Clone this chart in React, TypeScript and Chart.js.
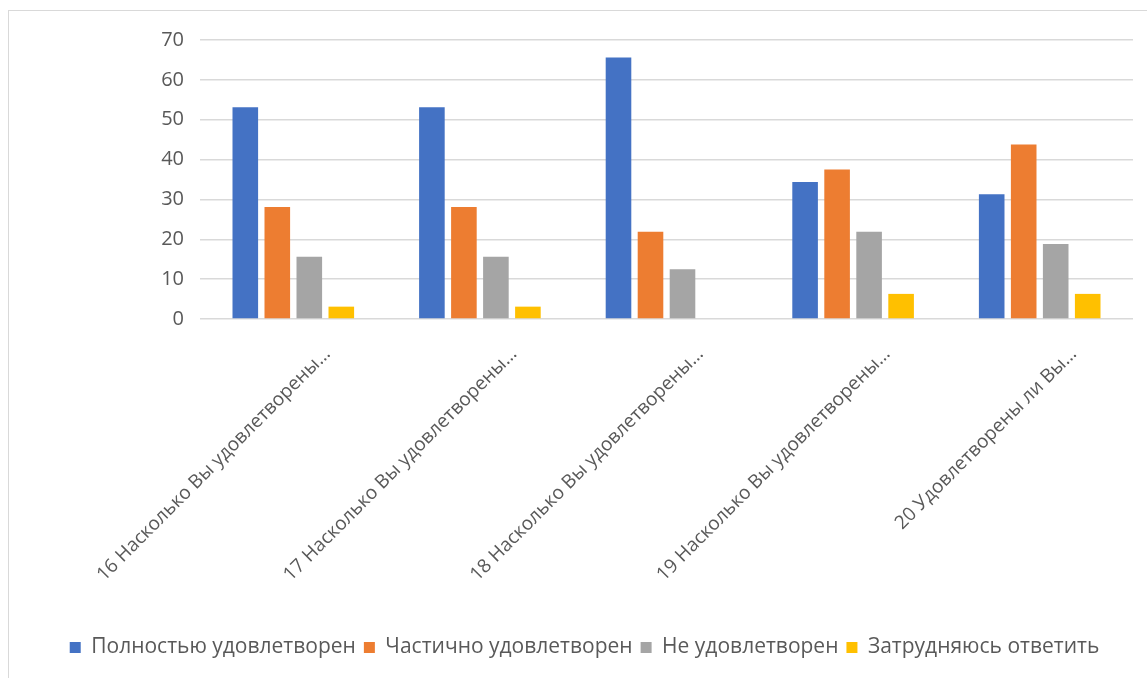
import React, { useEffect, useRef } from "react";
import { Chart, registerables } from "chart.js";

Chart.register(...registerables);

const categories = [
  "16 Насколько Вы удовлетворены…",
  "17 Насколько Вы удовлетворены…",
  "18 Насколько Вы удовлетворены…",
  "19 Насколько Вы удовлетворены…",
  "20 Удовлетворены ли Вы…",
];
const fullySatisfied = [53.1, 53.1, 65.6, 34.4, 31.3];
const partlySatisfied = [28.1, 28.1, 21.9, 37.5, 43.8];
const notSatisfied = [15.6, 15.6, 12.5, 21.9, 18.8];
const hardToSay = [3.1, 3.1, 0, 6.3, 6.3];
const seriesNames = [
  "Полностью удовлетворен",
  "Частично удовлетворен",
  "Не удовлетворен",
  "Затрудняюсь ответить",
];
const colors = ["#4472C4", "#ED7D31", "#A5A5A5", "#FFC000"];

const FONT = "'Open Sans', 'DejaVu Sans', sans-serif";

export default function App() {
  const ref = useRef<HTMLCanvasElement | null>(null);
  useEffect(() => {
    if (!ref.current) return;
    const data = [fullySatisfied, partlySatisfied, notSatisfied, hardToSay];
    const chart = new Chart(ref.current, {
      type: "bar",
      data: {
        labels: categories,
        datasets: data.map((d, i) => ({
          label: seriesNames[i],
          data: d,
          backgroundColor: colors[i],
          borderWidth: 0,
          categoryPercentage: 0.686,
          barPercentage: 0.8,
        })),
      },
      options: {
        animation: false,
        responsive: false,
        maintainAspectRatio: false,
        layout: { padding: { top: 40, right: 14, bottom: 10, left: 36 } },
        plugins: {
          tooltip: { enabled: false },
          legend: {
            position: "bottom",
            labels: {
              color: "#595959",
              font: { family: FONT, size: 21 },
              boxWidth: 11,
              boxHeight: 11,
              padding: 8,
            },
          },
        },
        scales: {
          x: {
            grid: { display: false },
            border: { display: false },
            afterFit: (s: any) => {
              s.height = 310;
            },
            ticks: {
              color: "#595959",
              font: { family: FONT, size: 19 },
              minRotation: 45,
              maxRotation: 45,
              labelOffset: 34,
              padding: 16,
            },
          },
          y: {
            min: 0,
            max: 70,
            afterFit: (s: any) => {
              s.width = 164;
            },
            grid: { color: "#d9d9d9", drawTicks: false, lineWidth: 1.5 },
            border: { display: false },
            ticks: {
              stepSize: 10,
              color: "#595959",
              font: { family: FONT, size: 20 },
              padding: 16,
            },
          },
        },
      },
    });
    return () => chart.destroy();
  }, []);
  return (
    <div style={{ position: "fixed", inset: 0, overflow: "hidden", background: "#fff" }}>
      <div
        style={{
          position: "absolute",
          left: 8,
          top: 10,
          width: 1300,
          height: 800,
          border: "1px solid #d9d9d9",
        }}
      />
      <canvas
        ref={ref}
        width={1147}
        height={678}
        style={{ position: "absolute", left: 0, top: 0, width: 1147, height: 678 }}
      />
    </div>
  );
}
